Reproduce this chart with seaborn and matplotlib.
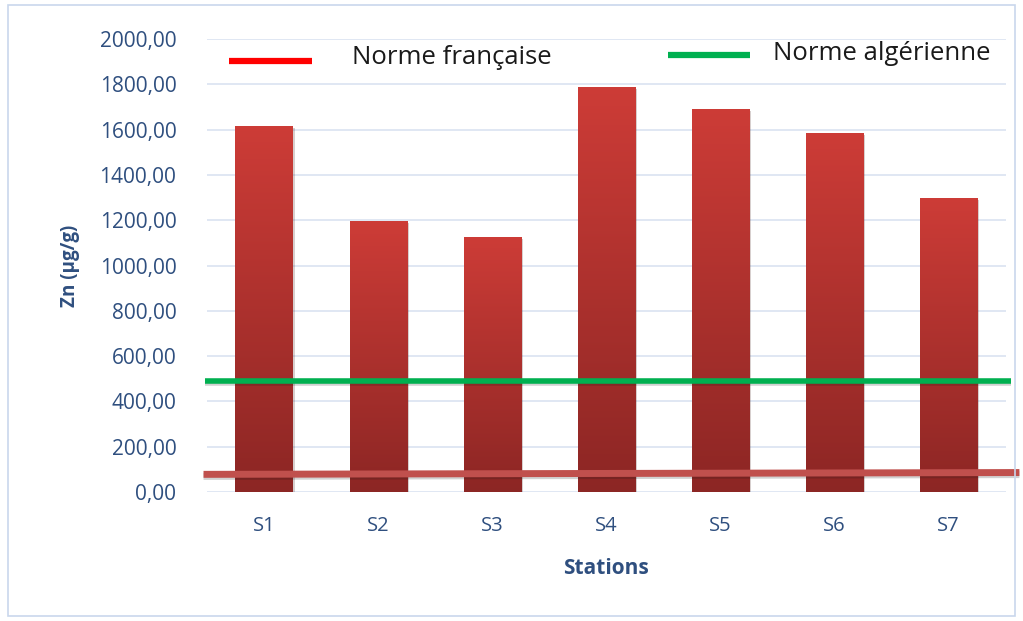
import matplotlib
matplotlib.use("Agg")
import matplotlib.pyplot as plt
import matplotlib.patheffects as pe
from matplotlib.lines import Line2D
from matplotlib.patches import Rectangle
import numpy as np
import pandas as pd
import seaborn as sns

# Data
stations = ["S1", "S2", "S3", "S4", "S5", "S6", "S7"]
zn_values = [1616, 1196, 1126, 1788, 1691, 1585, 1298]
norme_francaise = [78, 86]   # drawn line is slightly tilted in the original
norme_algerienne = 490
y_ticks = [0, 200, 400, 600, 800, 1000, 1200, 1400, 1600, 1800, 2000]
legend_labels = ["Norme française", "Norme algérienne"]

df = pd.DataFrame({"Stations": stations, "Zn": zn_values})

sns.set_theme(style="white")
plt.rcParams["font.family"] = ["Open Sans", "DejaVu Sans"]

W, H = 1023, 621
fig = plt.figure(figsize=(W / 100, H / 100), dpi=100)
ax = fig.add_axes([0.2023, 0.2077, 0.7808, 0.7295])

sns.barplot(data=df, x="Stations", y="Zn", color="#C0392F", width=0.5,
            ax=ax, zorder=2, saturation=1)

# vertical gradient on each bar
cmap = matplotlib.colors.LinearSegmentedColormap.from_list(
    "bar", ["#8C2624", "#CD3C37"])
for p in ax.patches:
    x0, y0 = p.get_x(), p.get_y()
    w, h = p.get_width(), p.get_height()
    im = ax.imshow(np.linspace(0, 1, 256).reshape(-1, 1),
                   extent=[x0, x0 + w, y0, y0 + h], origin="lower",
                   aspect="auto", cmap=cmap, zorder=2.1)
    im.set_clip_path(p)
    p.set_path_effects([pe.SimplePatchShadow(offset=(1.5, -1.5), alpha=0.2)])
ax.set_xlim(-0.5, len(stations) - 0.5)
ax.set_ylim(0, 2000)

# norm lines
shadow = [pe.SimpleLineShadow(offset=(0, -1.5), alpha=0.2), pe.Normal()]
ax.plot([-0.52, len(stations) - 0.45], [norme_algerienne] * 2, color="#00B050",
        lw=4, zorder=3, clip_on=False, path_effects=shadow,
        solid_capstyle="butt")
ax.plot([-0.53, len(stations) - 0.38], norme_francaise,
        color="#C0504D", lw=5, zorder=3, clip_on=False, path_effects=shadow,
        solid_capstyle="butt")

ax.set_yticks(y_ticks)
ax.set_yticklabels([f"{v:.2f}".replace(".", ",") for v in y_ticks])
ax.yaxis.grid(True, color="#DAE3F1", lw=1.2, zorder=0)
ax.xaxis.grid(False)
for s in ax.spines.values():
    s.set_visible(False)
ax.tick_params(axis="y", labelsize=15, labelcolor="#2F4F7F", pad=22, length=0)
ax.tick_params(axis="x", labelsize=14.5, labelcolor="#2F4F7F", pad=17, length=0)

ax.set_xlabel("Stations", fontsize=15, fontweight="bold", color="#2F4F7F",
              labelpad=16)
ax.set_ylabel("Zn (µg/g)", fontsize=13.5, fontweight="bold", color="#2F4F7F",
              labelpad=14)

# legend drawn in figure pixels
legend_colors = ["#FF0000", "#00B050"]
legend_lines = [(229, 312, 61), (668, 750, 55)]
legend_text = [(352, 57), (773, 53)]
for (x1, x2, yl), (xt, yt), c, lab in zip(legend_lines, legend_text,
                                          legend_colors, legend_labels):
    fig.add_artist(Line2D([x1 / W, x2 / W], [1 - yl / H] * 2, color=c, lw=4.5,
                          transform=fig.transFigure, solid_capstyle="butt"))
    fig.text(xt / W, 1 - yt / H, lab, fontsize=18.5, color="#1A1A1A",
             ha="left", va="center")

# outer chart border
fig.add_artist(Rectangle((0.008, 0.008), 0.984, 0.984, transform=fig.transFigure,
                         fill=False, edgecolor="#C9D7EC", lw=1.2))

fig.savefig("out.png", dpi=100)
